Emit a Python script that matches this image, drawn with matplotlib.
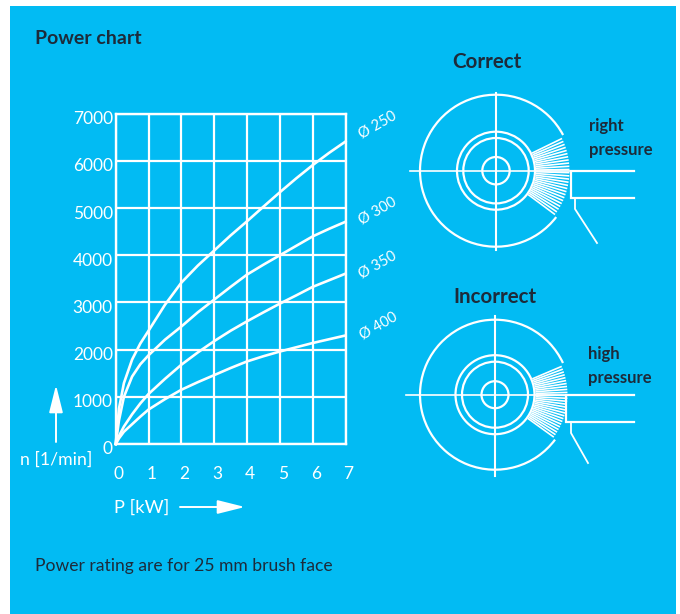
import numpy as np
import matplotlib
matplotlib.use("Agg")
import matplotlib.pyplot as plt
from matplotlib.patches import Circle, Arc, Rectangle
from matplotlib.transforms import ScaledTranslation

plt.rcParams['font.family'] = ['Lato', 'DejaVu Sans']

BLUE = "#02bbf3"
DARK = "#1d2b3a"

# curves
power = [0, 0.1, 0.25, 0.5, 0.75, 1, 1.5, 2, 2.5, 3, 3.5, 4, 4.5, 5, 5.5, 6, 6.5, 7]
d250 = [0, 750, 1290, 1790, 2130, 2400, 2950, 3420, 3780, 4100, 4420, 4720, 5030, 5335, 5630, 5910, 6170, 6410]
d300 = [0, 500, 1000, 1430, 1690, 1880, 2210, 2490, 2790, 3060, 3330, 3590, 3800, 4000, 4200, 4400, 4560, 4710]
d350 = [0, 170, 370, 630, 860, 1060, 1380, 1680, 1940, 2180, 2400, 2600, 2790, 2975, 3150, 3330, 3470, 3610]
d400 = [0, 120, 260, 420, 580, 730, 950, 1150, 1310, 1460, 1610, 1750, 1860, 1960, 2050, 2140, 2220, 2300]
x_ticks = [0, 1, 2, 3, 4, 5, 6, 7]
y_ticks = [0, 1000, 2000, 3000, 4000, 5000, 6000, 7000]
curve_labels = ["Ø 250", "Ø 300", "Ø 350", "Ø 400"]

W, H = 680, 614
fig = plt.figure(figsize=(W / 100, H / 100), dpi=100, facecolor="white")

# -------- overlay in pixel coordinates for background and diagrams --------
bg = fig.add_axes([0, 0, 1, 1])
bg.set_xlim(0, W)
bg.set_ylim(H, 0)
bg.axis("off")
bg.add_patch(Rectangle((10, 6), 666, 608, color=BLUE, lw=0))

# -------- the chart --------
ax = fig.add_axes([115.7 / W, 1 - 444 / H, (345.5 - 115.7) / W, (444 - 113.7) / H])
ax.patch.set_alpha(0)
for curve in [d250, d300, d350, d400]:
    ax.plot(power, curve, color="white", lw=1.9, solid_joinstyle="round", clip_on=False)
ax.set_xlim(0, 7)
ax.set_ylim(0, 7000)
ax.set_xticks(x_ticks)
ax.set_yticks(y_ticks)
ax.grid(True, color="white", lw=1.6)
ax.set_axisbelow(True)
for s in ax.spines.values():
    s.set_color("white")
    s.set_linewidth(1.7)
ax.tick_params(length=0, labelcolor="white", labelsize=12.5, pad=2)
ax.tick_params(axis="x", pad=16)
for lab in ax.get_xticklabels():
    lab.set_transform(lab.get_transform() + ScaledTranslation(3 / 100, 0, fig.dpi_scale_trans))
for lab in ax.get_yticklabels():
    lab.set_transform(lab.get_transform() + ScaledTranslation(0, -4 / 100, fig.dpi_scale_trans))

# curve labels
for label, (lx, ly) in zip(curve_labels, [(378, 125), (378, 211), (378, 265), (379, 326)]):
    bg.text(lx, ly, label, color="white", fontsize=10.5, rotation=30, ha="center", va="center",
            rotation_mode="anchor", zorder=5)

# texts
bg.text(35, 38.5, "Power chart", color=DARK, fontsize=14, fontweight="bold", va="center")
bg.text(487, 62, "Correct", color=DARK, fontsize=14.8, fontweight="bold", ha="center", va="center")
bg.text(495, 297, "Incorrect", color=DARK, fontsize=14.8, fontweight="bold", ha="center", va="center")
bg.text(589, 126, "right", color=DARK, fontsize=12, fontweight="bold", va="center")
bg.text(589, 150, "pressure", color=DARK, fontsize=12, fontweight="bold", va="center")
bg.text(588, 354, "high", color=DARK, fontsize=12, fontweight="bold", va="center")
bg.text(588, 378, "pressure", color=DARK, fontsize=12, fontweight="bold", va="center")
bg.text(35, 566.5, "Power rating are for 25 mm brush face", color=DARK, fontsize=12.6, va="center")
bg.text(20, 459.5, "n [1/min]", color="white", fontsize=12.7, va="center")
bg.text(114, 508, "P [kW]", color="white", fontsize=13.2, va="center")

# arrows
arrow = dict(arrowstyle="-|>,head_length=1.2,head_width=0.3", color="white", lw=1.4,
             shrinkA=0, shrinkB=0, mutation_scale=14)
bg.annotate("", xy=(56, 385), xytext=(56, 442), arrowprops=arrow)
bg.annotate("", xy=(245, 507), xytext=(180, 507), arrowprops=arrow)


def brush(cx, cy, radii, outer, gap_top, gap_bot, h_left, v_top, v_bot, tool):
    lw = 1.6
    bg.plot([h_left, 634], [cy, cy], color="white", lw=1.2)
    bg.plot([cx, cx], [v_top, v_bot], color="white", lw=1.5)
    for r in radii:
        bg.add_patch(Circle((cx, cy), r, fill=False, ec="white", lw=lw))
    # y axis is inverted, so angles run clockwise on screen
    bg.add_patch(Arc((cx, cy), 2 * outer, 2 * outer, theta1=gap_bot, theta2=360 - gap_top,
                     ec="white", lw=lw))
    # bristles
    for deg in np.linspace(-gap_top + 2, gap_bot - 1, 26):
        t = np.radians(deg)
        r2 = outer - 2.5
        bg.plot([cx + (radii[0] + 1) * np.cos(t), cx + r2 * np.cos(t)],
                [cy + (radii[0] + 1) * np.sin(t), cy + r2 * np.sin(t)],
                color="white", lw=1.2, solid_capstyle="butt")
    # tool holder
    tx, ty, sx, ex, ey = tool
    bg.plot([634, tx, tx, 634], [cy, cy, ty, ty], color="white", lw=1.6, solid_joinstyle="miter")
    bg.plot([sx, sx, ex], [ty, ty + 11, ey], color="white", lw=1.3)


brush(496, 170.7, [39, 32.7, 13.7], 76, 28, 37.6, 410, 93, 250, (571, 198, 575, 597, 243))
brush(495, 394.7, [39.5, 33, 13.5], 75, 25, 36.8, 406, 316, 476, (566, 422, 571, 588, 463))

fig.savefig("out.png", dpi=100)
